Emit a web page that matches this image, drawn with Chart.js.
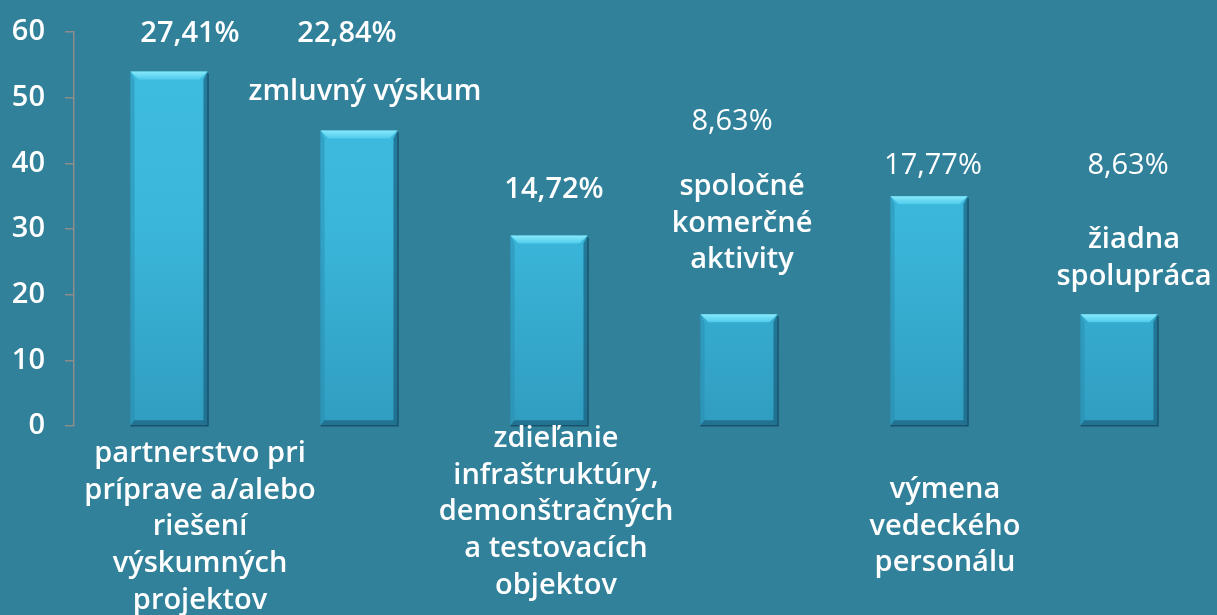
<!DOCTYPE html>
<html lang="sk">
<head>
<meta charset="UTF-8">
<title>Formy spolupráce</title>
<script src="https://cdn.jsdelivr.net/npm/chart.js@4.4.1/dist/chart.umd.min.js"></script>
<style>
    html, body {
        margin: 0;
        padding: 0;
        background: #31819a;
    }
    .chart-box {
        position: relative;
        width: 1217px;
        height: 615px;
    }
</style>
</head>
<body>
<div class="chart-box">
    <canvas id="coopChart"></canvas>
</div>
<script>
    // data (counts, 197 in total)
    const categories = [
        ['partnerstvo pri', 'príprave a/alebo', 'riešení', 'výskumných', 'projektov'],
        ['zmluvný výskum'],
        ['zdieľanie', 'infraštruktúry,', 'demonštračných', 'a testovacích', 'objektov'],
        ['spoločné', 'komerčné', 'aktivity'],
        ['výmena', 'vedeckého', 'personálu'],
        ['žiadna', 'spolupráca']
    ];
    const values = [54, 45, 29, 17, 35, 17];
    const shares = ['27,41%', '22,84%', '14,72%', '8,63%', '17,77%', '8,63%'];
    const yTicks = [0, 10, 20, 30, 40, 50, 60];

    // where the free-floating texts sit (x centre, first baseline)
    const shareSpots = [
        { x: 190, y: 42, bold: true },
        { x: 347, y: 42, bold: true },
        { x: 554, y: 198, bold: true },
        { x: 732, y: 130, bold: false },
        { x: 933, y: 174, bold: false },
        { x: 1128, y: 174, bold: false }
    ];
    const nameSpots = [
        { x: 200, y: 462 },
        { x: 365, y: 100 },
        { x: 556, y: 447 },
        { x: 742, y: 195 },
        { x: 945, y: 498 },
        { x: 1134, y: 248 }
    ];
    const lineGap = 36.7;
    const FONT = '"Open Sans", "DejaVu Sans", sans-serif';

    const textPlugin = {
        id: 'freeTexts',
        afterDraw(chart) {
            const ctx = chart.ctx;
            ctx.save();
            ctx.fillStyle = '#ffffff';
            ctx.textAlign = 'center';
            ctx.textBaseline = 'alphabetic';
            shares.forEach((s, i) => {
                const p = shareSpots[i];
                ctx.font = (p.bold ? '600 ' : '') + '29px ' + FONT;
                ctx.fillText(s, p.x, p.y);
            });
            ctx.font = '600 29px ' + FONT;
            categories.forEach((lines, i) => {
                const p = nameSpots[i];
                lines.forEach((ln, j) => ctx.fillText(ln, p.x, p.y + j * lineGap));
            });
            ctx.restore();
        }
    };

    // bevel look on top of each bar
    const bevelPlugin = {
        id: 'bevel',
        afterDatasetsDraw(chart) {
            const ctx = chart.ctx;
            const meta = chart.getDatasetMeta(0);
            ctx.save();
            meta.data.forEach(bar => {
                const l = bar.x - bar.width / 2, r = bar.x + bar.width / 2;
                const t = bar.y, b = bar.base;
                const d = 8;
                // top light facet
                let g = ctx.createLinearGradient(0, t, 0, t + d);
                g.addColorStop(0, '#86e9fa');
                g.addColorStop(1, '#4fcbec');
                ctx.fillStyle = g;
                ctx.beginPath();
                ctx.moveTo(l, t); ctx.lineTo(r, t); ctx.lineTo(r - d, t + d); ctx.lineTo(l + d, t + d);
                ctx.closePath(); ctx.fill();
                // left facet
                ctx.fillStyle = 'rgba(40,140,175,0.5)';
                ctx.beginPath();
                ctx.moveTo(l, t); ctx.lineTo(l + 4, t + d); ctx.lineTo(l + 4, b - 4); ctx.lineTo(l, b);
                ctx.closePath(); ctx.fill();
                // right facet
                ctx.fillStyle = 'rgba(25,95,125,0.7)';
                ctx.beginPath();
                ctx.moveTo(r, t); ctx.lineTo(r - 4, t + d); ctx.lineTo(r - 4, b - 4); ctx.lineTo(r, b);
                ctx.closePath(); ctx.fill();
                // bottom facet
                ctx.fillStyle = 'rgba(30,100,130,0.75)';
                ctx.beginPath();
                ctx.moveTo(l, b); ctx.lineTo(l + 4, b - 5); ctx.lineTo(r - 4, b - 5); ctx.lineTo(r, b);
                ctx.closePath(); ctx.fill();
                // dark rim
                ctx.strokeStyle = 'rgba(20,70,95,0.8)';
                ctx.lineWidth = 1.5;
                ctx.beginPath();
                ctx.moveTo(r + 0.5, t + 2); ctx.lineTo(r + 0.5, b + 0.5); ctx.lineTo(l, b + 0.5);
                ctx.stroke();
            });
            ctx.restore();
        }
    };

    const ctx = document.getElementById('coopChart').getContext('2d');
    new Chart(ctx, {
        type: 'bar',
        data: {
            labels: categories,
            datasets: [{
                data: values,
                backgroundColor: function(context) {
                    const area = context.chart.chartArea;
                    if (!area) return '#3ab4d7';
                    const g = context.chart.ctx.createLinearGradient(0, area.top, 0, area.bottom);
                    g.addColorStop(0, '#3fbee2');
                    g.addColorStop(0.5, '#3ab6da');
                    g.addColorStop(1, '#309dc0');
                    return g;
                },
                borderWidth: 0,
                barPercentage: 0.405,
                categoryPercentage: 1
            }]
        },
        options: {
            responsive: true,
            maintainAspectRatio: false,
            animation: false,
            layout: {
                padding: { left: 0, right: 3, top: 32, bottom: 189 }
            },
            plugins: {
                legend: { display: false },
                tooltip: { enabled: false }
            },
            scales: {
                x: {
                    display: false
                },
                y: {
                    min: 0,
                    max: 60,
                    afterBuildTicks: function(scale) {
                        scale.ticks = yTicks.map(v => ({ value: v }));
                    },
                    afterFit: function(scale) {
                        scale.width = 74;
                        scale.paddingTop = 0;
                        scale.paddingBottom = 0;
                    },
                    ticks: {
                        color: '#ffffff',
                        padding: 20,
                        font: { family: FONT, size: 29, weight: '600', lineHeight: 0.8 }
                    },
                    grid: {
                        drawOnChartArea: false,
                        drawTicks: true,
                        tickLength: 9,
                        color: '#8c8c8c',
                        lineWidth: 1.5
                    },
                    border: {
                        display: true,
                        color: '#8c8c8c',
                        width: 1.5
                    }
                }
            }
        },
        plugins: [bevelPlugin, textPlugin]
    });
</script>
</body>
</html>
